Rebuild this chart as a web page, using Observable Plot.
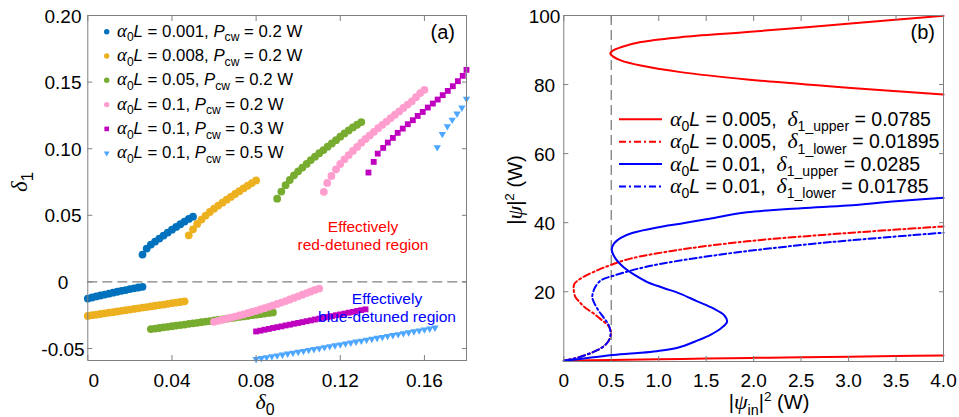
<!DOCTYPE html>
<html><head><meta charset="utf-8">
<script src="https://cdn.jsdelivr.net/npm/d3@7"></script>
<script src="https://cdn.jsdelivr.net/npm/@observablehq/plot@0.6"></script>
<style>
body{margin:0;background:#fff;}
#wrap{display:flex;width:959px;height:417px;overflow:hidden;}
</style></head><body><div id="wrap"></div>
<script>
// ---------- Panel (a) data : delta0 / delta1 ----------
// alpha0L = 0.001, Pcw = 0.2 W
const s1LowD0 = [0,0.002,0.004,0.006,0.008,0.010,0.012,0.014,0.016,0.018,0.020,0.022,0.024,0.026];
const s1LowD1 = [-0.0125,-0.0117,-0.0109,-0.0102,-0.0095,-0.0088,-0.0081,-0.0074,-0.0067,-0.0061,-0.0054,-0.0048,-0.0042,-0.0037];
const s1UpD0 = [0.026,0.028,0.030,0.032,0.034,0.036,0.038,0.040,0.042,0.044,0.046,0.048,0.050];
const s1UpD1 = [0.0205,0.0250,0.0280,0.0303,0.0325,0.0348,0.0370,0.0392,0.0413,0.0433,0.0453,0.0473,0.0490];
// alpha0L = 0.008, Pcw = 0.2 W
const s2LowD0 = [0,0.002,0.004,0.006,0.008,0.010,0.012,0.014,0.016,0.018,0.020,0.022,0.024,0.026,0.028,0.030,0.032,0.034,0.036,0.038,0.040,0.042,0.044,0.046];
const s2LowD1 = [-0.0255,-0.0250,-0.0246,-0.0241,-0.0236,-0.0231,-0.0227,-0.0222,-0.0217,-0.0212,-0.0208,-0.0203,-0.0198,-0.0193,-0.0189,-0.0184,-0.0179,-0.0174,-0.0170,-0.0165,-0.0160,-0.0155,-0.0151,-0.0146];
const s2UpD0 = [0.048,0.050,0.052,0.054,0.056,0.058,0.060,0.062,0.064,0.066,0.068,0.070,0.072,0.074,0.076,0.078,0.080];
const s2UpD1 = [0.0350,0.0395,0.0435,0.0468,0.0498,0.0525,0.0550,0.0573,0.0595,0.0617,0.0638,0.0660,0.0681,0.0702,0.0722,0.0742,0.0762];
// alpha0L = 0.05, Pcw = 0.2 W
const s3LowD0 = [0.030,0.032,0.034,0.036,0.038,0.040,0.042,0.044,0.046,0.048,0.050,0.052,0.054,0.056,0.058,0.060,0.062,0.064,0.066,0.068,0.070,0.072,0.074,0.076,0.078,0.080,0.082,0.084,0.086,0.088];
const s3LowD1 = [-0.0354,-0.0350,-0.0346,-0.0341,-0.0337,-0.0333,-0.0328,-0.0324,-0.0320,-0.0315,-0.0311,-0.0307,-0.0302,-0.0298,-0.0294,-0.0289,-0.0285,-0.0281,-0.0276,-0.0272,-0.0268,-0.0263,-0.0259,-0.0255,-0.0250,-0.0246,-0.0242,-0.0237,-0.0233,-0.0229];
const s3UpD0 = [0.090,0.092,0.094,0.096,0.098,0.100,0.102,0.104,0.106,0.108,0.110,0.112,0.114,0.116,0.118,0.120,0.122,0.124,0.126,0.128,0.130];
const s3UpD1 = [0.0625,0.0678,0.0726,0.0765,0.0800,0.0830,0.0858,0.0886,0.0915,0.0940,0.0966,0.0990,0.1015,0.1040,0.1064,0.1090,0.1115,0.1137,0.1160,0.1180,0.1200];
// alpha0L = 0.1, Pcw = 0.2 W
const s4LowD0 = [0.060,0.062,0.064,0.066,0.068,0.070,0.072,0.074,0.076,0.078,0.080,0.082,0.084,0.086,0.088,0.090,0.092,0.094,0.096,0.098,0.100,0.102,0.104,0.106,0.108,0.110];
const s4LowD1 = [-0.0300,-0.0292,-0.0284,-0.0276,-0.0268,-0.0260,-0.0252,-0.0244,-0.0235,-0.0226,-0.0217,-0.0207,-0.0197,-0.0187,-0.0177,-0.0166,-0.0155,-0.0144,-0.0132,-0.0120,-0.0108,-0.0096,-0.0084,-0.0072,-0.0060,-0.0050];
const s4UpD0 = [0.1122,0.1138,0.1158,0.118,0.120,0.122,0.124,0.126,0.128,0.130,0.132,0.134,0.136,0.138,0.140,0.142,0.144,0.146,0.148,0.150,0.152,0.154,0.156,0.158,0.160];
const s4UpD1 = [0.0676,0.0743,0.0796,0.0845,0.0885,0.0920,0.0952,0.0983,0.1013,0.1045,0.1073,0.1100,0.1127,0.1154,0.1179,0.1204,0.1230,0.1255,0.1280,0.1306,0.1331,0.1356,0.1387,0.1418,0.1442];
// alpha0L = 0.1, Pcw = 0.3 W
const s5LowD0 = [0.080,0.082,0.084,0.086,0.088,0.090,0.092,0.094,0.096,0.098,0.100,0.102,0.104,0.106,0.108,0.110,0.112,0.114,0.116,0.118,0.120,0.122,0.124,0.126,0.128,0.130,0.132];
const s5LowD1 = [-0.0372,-0.0366,-0.0359,-0.0353,-0.0346,-0.0340,-0.0334,-0.0327,-0.0321,-0.0314,-0.0308,-0.0302,-0.0295,-0.0289,-0.0282,-0.0276,-0.0270,-0.0263,-0.0257,-0.0250,-0.0244,-0.0238,-0.0231,-0.0225,-0.0218,-0.0212,-0.0206];
const s5UpD0 = [0.1334,0.1359,0.1378,0.1404,0.1426,0.1450,0.1473,0.1497,0.1521,0.1545,0.1568,0.1592,0.1616,0.1640,0.1663,0.1687,0.1711,0.1735,0.1759,0.1782,0.1800];
const s5UpD1 = [0.0821,0.0901,0.0963,0.1006,0.1046,0.1081,0.1119,0.1151,0.1184,0.1214,0.1246,0.1276,0.1309,0.1339,0.1369,0.1402,0.1434,0.1469,0.1507,0.1547,0.1592];
// alpha0L = 0.1, Pcw = 0.5 W
const s6LowD0 = [0.080,0.0825,0.085,0.0875,0.090,0.0925,0.095,0.0975,0.100,0.1025,0.105,0.1075,0.110,0.1125,0.115,0.1175,0.120,0.1225,0.125,0.1275,0.130,0.1325,0.135,0.1375,0.140,0.1425,0.145,0.1475,0.150,0.1525,0.155,0.1575,0.160,0.1625,0.165];
const s6LowD1 = [-0.0580,-0.0573,-0.0566,-0.0559,-0.0553,-0.0546,-0.0539,-0.0532,-0.0526,-0.0519,-0.0512,-0.0505,-0.0498,-0.0491,-0.0484,-0.0477,-0.0470,-0.0463,-0.0456,-0.0449,-0.0442,-0.0435,-0.0428,-0.0421,-0.0414,-0.0407,-0.0400,-0.0393,-0.0386,-0.0379,-0.0372,-0.0365,-0.0358,-0.0351,-0.0344];
const s6UpD0 = [0.1661,0.1685,0.1709,0.1732,0.1755,0.1778,0.1800];
const s6UpD1 = [0.1010,0.1110,0.1168,0.1217,0.1263,0.1308,0.1375];

const legendAlphaA = ["0.001","0.008","0.05","0.1","0.1","0.1"];
const legendPcwA = ["0.2","0.2","0.2","0.2","0.3","0.5"];

const xTicksA = [0,0.04,0.08,0.12,0.16];
const xTickLabelsA = ["0","0.04","0.08","0.12","0.16"];
const yTicksA = [-0.05,0,0.05,0.10,0.15,0.20];
const yTickLabelsA = ["-0.05","0","0.05","0.10","0.15","0.20"];

// ---------- Panel (b) data : |psi_in|^2 / |psi|^2 ----------
// alpha0L = 0.005, delta1_upper = 0.0785 (solid red): two visible pieces
const rsLowX = [0,0.5,1,1.5,2,2.5,3,3.5,4];
const rsLowY = [0,0.25,0.45,0.65,0.85,1.05,1.2,1.4,1.55];
const rsHighX = [4.0,2.99,1.93,1.23,0.81,0.60,0.52,0.49,0.52,0.60,0.81,1.23,1.93,2.99,4.0];
const rsHighY = [99.9,97.6,95.2,93.7,92.3,90.8,89.9,89.0,88.1,87.0,85.5,83.6,81.5,79.1,77.1];
// alpha0L = 0.005, delta1_lower = 0.01895 (dash-dot red)
const rdX = [0,0.1,0.2,0.3,0.4,0.46,0.49,0.495,0.47,0.40,0.32,0.22,0.16,0.12,0.105,0.11,0.176,0.352,0.50,0.703,1.23,1.93,2.99,4.0];
const rdY = [0,0.6,1.4,2.4,3.8,5.3,7.0,8.6,10.1,11.8,13.6,15.5,17.2,18.6,20.5,22.2,23.8,26.2,27.8,29.6,32.2,34.6,37.0,38.9];
// alpha0L = 0.01, delta1_upper = 0.0285 (solid blue)
const bsX = [0,0.25,0.49,0.75,0.98,1.2,1.41,1.55,1.66,1.72,1.69,1.58,1.40,1.23,1.05,0.88,0.75,0.63,0.54,0.505,0.53,0.60,0.72,1.0,1.23,1.5,1.93,2.5,2.99,3.5,4.0];
const bsY = [0,0.8,1.6,2.2,2.8,3.8,5.9,7.6,9.5,11.3,13.2,15.1,17.3,19.4,21.1,22.8,24.8,27.1,29.8,32.2,34.0,35.6,37.0,38.7,39.7,41.0,43.0,44.2,45.0,46.2,47.2];
// alpha0L = 0.01, delta1_lower = 0.01785 (dash-dot blue)
const bdX = [0,0.1,0.2,0.3,0.4,0.46,0.49,0.49,0.47,0.42,0.36,0.32,0.30,0.31,0.33,0.39,0.53,0.88,1.58,2.63,4.0];
const bdY = [0,0.6,1.4,2.4,3.8,5.3,7.0,8.7,10.5,12.5,14.8,16.8,18.4,20.0,21.3,23.3,24.7,27.3,30.5,33.9,37.1];

const legendAlphaB = ["0.005","0.005","0.01","0.01"];
const legendDeltaSubB = ["1_upper","1_lower","1_upper","1_lower"];
const legendDeltaValB = ["0.0785","0.01895","0.0285","0.01785"];

const xTicksB = [0,0.5,1,1.5,2,2.5,3,3.5,4];
const xTickLabelsB = ["0","0.5","1.0","1.5","2.0","2.5","3.0","3.5","4.0"];
const yTicksB = [20,40,60,80,100];
const yTickLabelsB = ["20","40","60","80","100"];

// ---------- helpers ----------
const pts = (xs, ys) => xs.map((x, i) => ({x, y: ys[i]}));
const GREY = "#808080";
const FONT = "'Liberation Sans', Arial, sans-serif";
const SERIF = "'Liberation Serif', 'Times New Roman', serif";
const triDown = {draw(ctx, size) {
  const a = Math.sqrt(size) * 1.15, h = a * Math.sqrt(3) / 2;
  ctx.moveTo(0, 2*h/3); ctx.lineTo(-a/2, -h/3); ctx.lineTo(a/2, -h/3); ctx.closePath();
}};

function rich(g, x, y, parts, o) {
  const t = g.append("text").attr("x", x).attr("y", y)
    .attr("font-size", o.size).attr("font-family", FONT)
    .attr("fill", o.fill || "black").attr("text-anchor", o.anchor || "start")
    .style("white-space", "pre");
  if (o.rotate) t.attr("transform", `rotate(-90 ${x} ${y})`);
  let shift = 0;
  for (const p of parts) {
    const s = t.append("tspan").text(p.t);
    let target = 0;
    if (p.sub) { target = o.size * 0.28; s.attr("font-size", o.size * 0.72); }
    if (p.sup) { target = -o.size * 0.42; s.attr("font-size", o.size * 0.68); }
    if (target !== shift) { s.attr("dy", target - shift); shift = target; }
    if (p.it) s.attr("font-style", "italic");
    if (p.serif) s.attr("font-family", SERIF);
    if (p.big) s.attr("font-size", o.size * p.big);
  }
  return t;
}
const fmt = (ticks, labels) => d => labels[ticks.indexOf(d)];

// ---------- Panel (a) ----------
const seriesA = [
  {d: pts(s1LowD0, s1LowD1).concat(pts(s1UpD0, s1UpD1)), color: "#0072BD", symbol: "circle", r: 3.9},
  {d: pts(s2LowD0, s2LowD1).concat(pts(s2UpD0, s2UpD1)), color: "#EDB120", symbol: "circle", r: 3.9},
  {d: pts(s3LowD0, s3LowD1).concat(pts(s3UpD0, s3UpD1)), color: "#77AC30", symbol: "circle", r: 3.9},
  {d: pts(s4LowD0, s4LowD1).concat(pts(s4UpD0, s4UpD1)), color: "#FF9ECE", symbol: "circle", r: 3.9},
  {d: pts(s5LowD0, s5LowD1).concat(pts(s5UpD0, s5UpD1)), color: "#BF00BF", symbol: "square", r: 3.3},
  {d: pts(s6LowD0, s6LowD1).concat(pts(s6UpD0, s6UpD1)), color: "#4DA6FF", symbol: triDown, r: 3.6}
];

const svgA = Plot.plot({
  width: 480, height: 417,
  marginLeft: 87.3, marginRight: 14, marginTop: 15, marginBottom: 57,
  style: {fontFamily: FONT, fontSize: "19px", background: "white", color: "black", overflow: "visible"},
  x: {domain: [0, 0.18]},
  y: {domain: [-0.059, 0.2]},
  marks: [
    Plot.ruleY([0], {stroke: GREY, strokeDasharray: "10,5", strokeWidth: 1.3}),
    ...seriesA.map(s => Plot.dot(s.d, {x: "x", y: "y", r: s.r, fill: s.color, symbol: s.symbol})),
    Plot.frame({stroke: GREY}),
    Plot.axisX({ticks: xTicksA, tickSize: -5, tickFormat: () => "", stroke: GREY, label: null}),
    Plot.axisX({anchor: "top", ticks: xTicksA, tickSize: -5, tickFormat: () => "", stroke: GREY, label: null}),
    Plot.axisX({ticks: xTicksA, tickSize: 0, tickPadding: 13, tickFormat: fmt(xTicksA, xTickLabelsA), label: null}),
    Plot.axisY({ticks: yTicksA, tickSize: -5, tickFormat: () => "", stroke: GREY, label: null}),
    Plot.axisY({anchor: "right", ticks: yTicksA, tickSize: -5, tickFormat: () => "", stroke: GREY, label: null}),
    Plot.axisY({ticks: yTicksA, tickSize: 0, tickPadding: 24.8, textAnchor: "middle", dy: 1, tickFormat: fmt(yTicksA, yTickLabelsA), label: null})
  ]
});

// ---------- Panel (b) ----------
const lineB = [
  {d: pts(rsLowX, rsLowY), color: "#FF0000", dash: null},
  {d: pts(rsHighX, rsHighY), color: "#FF0000", dash: null},
  {d: pts(rdX, rdY), color: "#FF0000", dash: "7,3,2,3"},
  {d: pts(bsX, bsY), color: "#0000FF", dash: null},
  {d: pts(bdX, bdY), color: "#0000FF", dash: "7,3,2,3"}
];
const svgB = Plot.plot({
  width: 479, height: 417,
  marginLeft: 83.3, marginRight: 16, marginTop: 15, marginBottom: 56,
  style: {fontFamily: FONT, fontSize: "19px", background: "white", color: "black", overflow: "visible"},
  x: {domain: [0, 4]},
  y: {domain: [-0.2, 100]},
  marks: [
    Plot.ruleX([0.5], {stroke: GREY, strokeDasharray: "10,5", strokeWidth: 1.3}),
    ...lineB.map(l => Plot.line(l.d, {x: "x", y: "y", stroke: l.color, strokeWidth: 2, curve: "catmull-rom", strokeDasharray: l.dash})),
    Plot.frame({stroke: GREY}),
    Plot.axisX({ticks: xTicksB, tickSize: -5, tickFormat: () => "", stroke: GREY, label: null}),
    Plot.axisX({anchor: "top", ticks: xTicksB, tickSize: -5, tickFormat: () => "", stroke: GREY, label: null}),
    Plot.axisX({ticks: xTicksB, tickSize: 0, tickPadding: 11.5, tickFormat: fmt(xTicksB, xTickLabelsB), label: null}),
    Plot.axisY({ticks: yTicksB, tickSize: -5, tickFormat: () => "", stroke: GREY, label: null}),
    Plot.axisY({anchor: "right", ticks: yTicksB, tickSize: -5, tickFormat: () => "", stroke: GREY, label: null}),
    Plot.axisY({ticks: yTicksB, tickSize: 0, tickPadding: 19.3, textAnchor: "middle", dy: 1, tickFormat: fmt(yTicksB, yTickLabelsB), label: null})
  ]
});

document.getElementById("wrap").append(svgA, svgB);

// ---------- annotations panel (a) ----------
const gA = d3.select(svgA).append("g");
// shift the "0" x tick label like the original
d3.select(svgA).selectAll("g[aria-label='x-axis tick label'] text").each(function() {
  if (this.textContent === "0") d3.select(this).attr("dx", 6);
});
seriesA.forEach((s, i) => {
  const y = 31.7 + i * 24.3;
  const sym = s.symbol === "circle" ? d3.symbolCircle : s.symbol === "square" ? d3.symbolSquare : triDown;
  const rr = s.symbol === "circle" ? 2.7 : s.symbol === "square" ? 2.6 : 2.9;
  gA.append("path").attr("d", d3.symbol(sym, Math.PI * rr * rr)()).attr("transform", `translate(106.7,${y})`).attr("fill", s.color);
  rich(gA, 117, y + 5, [
    {t: "α", it: true, serif: true, big: 1.12}, {t: "0", sub: true}, {t: "L", it: true},
    {t: " = " + legendAlphaA[i] + ", "}, {t: "P", it: true}, {t: "cw", sub: true},
    {t: " = " + legendPcwA[i] + " W"}
  ], {size: 16.8});
});
rich(gA, 455, 39, [{t: "(a)"}], {size: 20, anchor: "end"});
rich(gA, 363, 231.5, [{t: "Effectively"}], {size: 15.5, anchor: "middle", fill: "#FF0000"});
rich(gA, 363, 249.5, [{t: "red-detuned region"}], {size: 15.5, anchor: "middle", fill: "#FF0000"});
rich(gA, 387, 304, [{t: "Effectively"}], {size: 15.5, anchor: "middle", fill: "#0000FF"});
rich(gA, 387, 322, [{t: "blue-detuned region"}], {size: 15.5, anchor: "middle", fill: "#0000FF"});
rich(gA, 265, 409, [{t: "δ", it: true, serif: true}, {t: "0", sub: true}], {size: 22, anchor: "middle"});
rich(gA, 27, 182, [{t: "δ", it: true, serif: true}, {t: "1", sub: true}], {size: 23, anchor: "middle", rotate: true});

// ---------- annotations panel (b) ----------
const gB = d3.select(svgB).append("g");
lineB.slice(1).forEach((l, i) => {
  const y = 119.3 + i * 22.4;
  gB.append("line").attr("x1", 139).attr("x2", 182).attr("y1", y).attr("y2", y)
    .attr("stroke", l.color).attr("stroke-width", 2).attr("stroke-dasharray", l.dash);
  rich(gB, 190, y + 6.5, [
    {t: "α", it: true, serif: true, big: 1.12}, {t: "0", sub: true}, {t: "L", it: true},
    {t: " = " + legendAlphaB[i] + ",  "}, {t: "δ", it: true, serif: true, big: 1.12},
    {t: legendDeltaSubB[i], sub: true}, {t: " = " + legendDeltaValB[i]}
  ], {size: 19.5});
});
rich(gB, 455, 39, [{t: "(b)"}], {size: 20, anchor: "end"});
rich(gB, 289, 409, [{t: "|"}, {t: "ψ", it: true, serif: true, big: 1.1}, {t: "in", sub: true}, {t: "|"}, {t: "2", sup: true}, {t: " (W)"}], {size: 20, anchor: "middle"});
rich(gB, 42, 190, [{t: "|"}, {t: "ψ", it: true, serif: true, big: 1.1}, {t: "|"}, {t: "2", sup: true}, {t: " (W)"}], {size: 20, anchor: "middle", rotate: true});
</script></body></html>
